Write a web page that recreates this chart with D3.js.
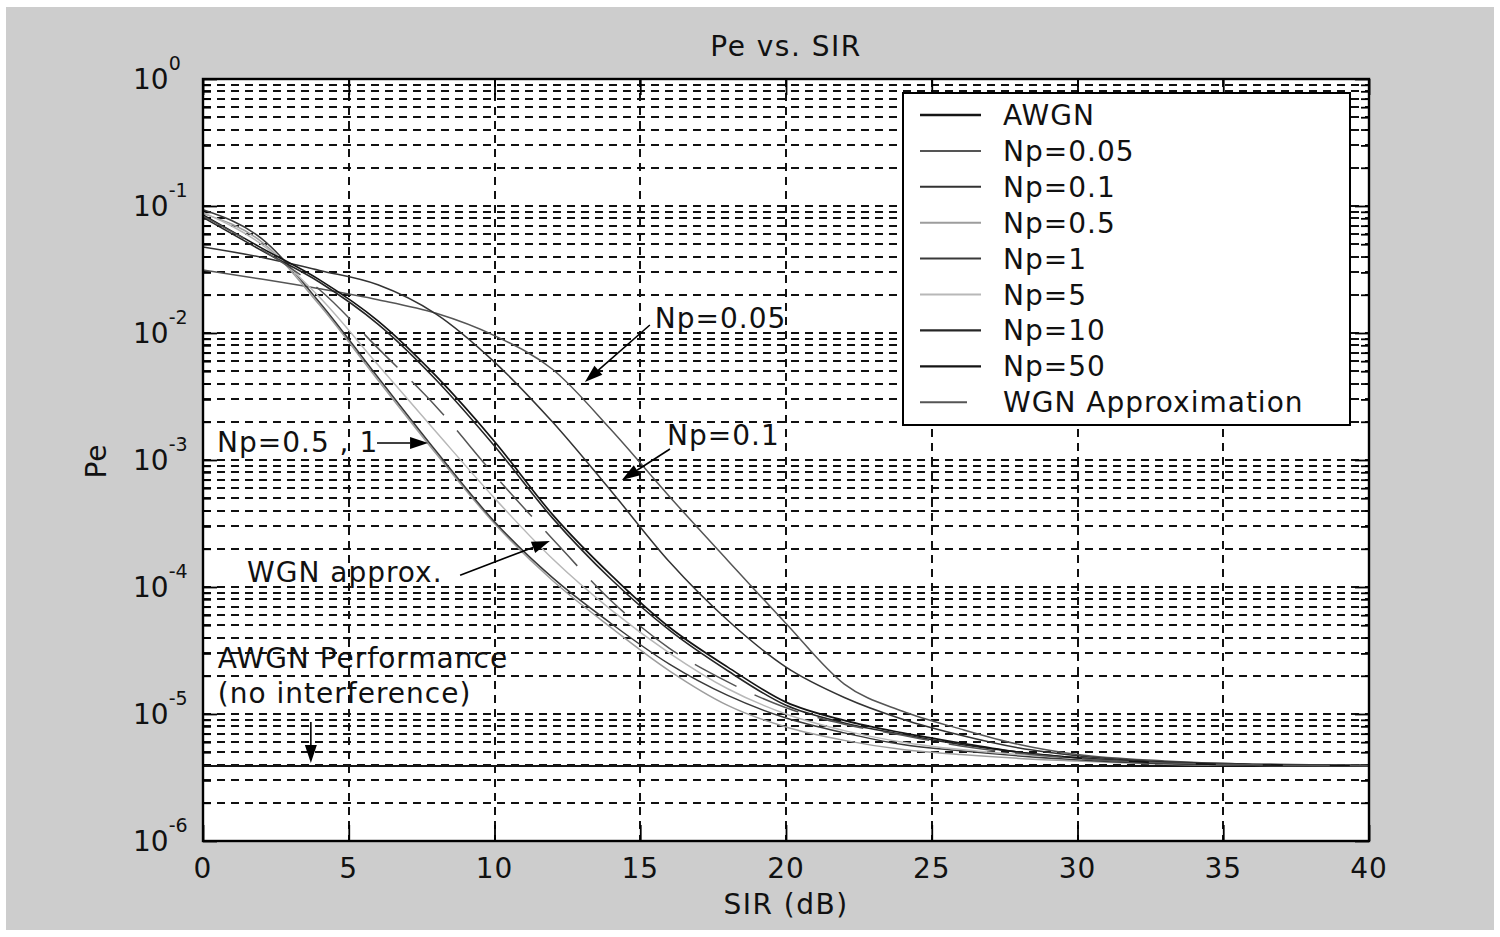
<!DOCTYPE html>
<html><head><meta charset="utf-8">
<script src="https://cdn.jsdelivr.net/npm/d3@7"></script>
<style>
body{margin:0;background:#fff;}
text{font-family:"DejaVu Sans",sans-serif;fill:#111;}
</style>
</head><body>
<svg id="c" width="1500" height="937"></svg>
<script>
// ---------------- data ----------------
const sir = [0,2,4,6,8,10,12,14,16,18,20,22,24,26,28,30,33,36,40];
const awgnSir = [0,40];
const awgn = [3.9e-6,3.9e-6];
const np005 = [0.0313,0.0266,0.0223,0.0183,0.0143,0.00953,0.00516,0.00173,5.16e-4,1.62e-4,5.16e-5,1.72e-5,1.05e-5,7.6e-6,5.75e-6,4.79e-6,4.27e-6,4.03e-6,3.94e-6];
const np01  = [0.0475,0.0395,0.0311,0.0240,0.0141,0.0059,0.00198,5.7e-4,1.58e-4,5.47e-5,2.34e-5,1.35e-5,9.1e-6,6.8e-6,5.4e-6,4.7e-6,4.2e-6,4.03e-6,3.94e-6];
const np05  = [0.0871,0.0525,0.0166,0.00427,0.00112,3.16e-4,1.12e-4,4.79e-5,2.19e-5,1.17e-5,7.9e-6,6.2e-6,5.25e-6,4.79e-6,4.47e-6,4.27e-6,4.03e-6,3.94e-6,3.92e-6];
const np1   = [0.0933,0.0556,0.0174,0.00448,0.00117,3.27e-4,1.18e-4,5.16e-5,2.47e-5,1.40e-5,9.3e-6,7.1e-6,5.75e-6,5.13e-6,4.68e-6,4.37e-6,4.07e-6,3.98e-6,3.92e-6];
const np5   = [0.0891,0.0501,0.0191,0.00562,0.00166,5.01e-4,1.66e-4,6.6e-5,3.02e-5,1.58e-5,1.0e-5,7.4e-6,6.0e-6,5.25e-6,4.79e-6,4.47e-6,4.12e-6,3.98e-6,3.92e-6];
const np10  = [0.0813,0.0447,0.0251,0.01175,0.00427,0.00129,3.47e-4,1.15e-4,4.57e-5,2.19e-5,1.17e-5,8.5e-6,6.9e-6,5.75e-6,5.0e-6,4.52e-6,4.12e-6,3.98e-6,3.92e-6];
const np50  = [0.0851,0.0468,0.0262,0.01247,0.00457,0.0014,3.70e-4,1.24e-4,4.82e-5,2.34e-5,1.24e-5,8.9e-6,7.1e-6,5.9e-6,5.0e-6,4.52e-6,4.12e-6,3.98e-6,3.92e-6];
const wgn   = [0.0832,0.0457,0.0219,0.0076,0.00263,7.59e-4,2.38e-4,7.8e-5,3.29e-5,1.79e-5,1.12e-5,8.3e-6,6.8e-6,5.6e-6,4.9e-6,4.47e-6,4.12e-6,3.98e-6,3.92e-6];

const seriesNames = ["AWGN","Np=0.05","Np=0.1","Np=0.5","Np=1","Np=5","Np=10","Np=50","WGN Approximation"];
const xTicks = [0,5,10,15,20,25,30,35,40];
const yExps = [0,-1,-2,-3,-4,-5,-6];
const titleText = "Pe vs. SIR";
const xLabel = "SIR (dB)";
const yLabel = "Pe";

// annotations in data coordinates (SIR, Pe)
const notes = [
  {lines:["Np=0.05"], at:[15.5,0.01094], from:[15.33,0.01156], to:[13.1,0.00411]},
  {lines:["Np=0.1"], at:[15.92,1.31e-3], from:[16.02,1.22e-3], to:[14.37,6.96e-4]},
  {lines:["Np=0.5 , 1"], at:[0.48,1.16e-3], from:[5.97,1.36e-3], to:[7.72,1.36e-3]},
  {lines:["WGN approx."], at:[1.51,1.1e-4], from:[8.82,1.24e-4], to:[11.9,2.3e-4]},
  {lines:["AWGN Performance","(no interference)"], at:[0.51,2.3e-5], lineStep:[0.51,1.22e-5], from:[3.7,8.65e-6], to:[3.7,4.11e-6]}
];

// ---------------- styles ----------------
const styles = {
  "AWGN":{c:"#151515",w:2,d:null},
  "Np=0.05":{c:"#555555",w:1.5,d:null},
  "Np=0.1":{c:"#333333",w:1.5,d:null},
  "Np=0.5":{c:"#9d9d9d",w:1.5,d:null},
  "Np=1":{c:"#3a3a3a",w:1.5,d:null},
  "Np=5":{c:"#b8b8b8",w:1.5,d:null},
  "Np=10":{c:"#262626",w:1.6,d:null},
  "Np=50":{c:"#141414",w:1.7,d:null},
  "WGN Approximation":{c:"#555555",w:1.5,d:"47,20"}
};
const series = [
  {name:"AWGN", x:awgnSir, y:awgn},
  {name:"Np=0.05", x:sir, y:np005},
  {name:"Np=0.1", x:sir, y:np01},
  {name:"Np=0.5", x:sir, y:np05},
  {name:"Np=1", x:sir, y:np1},
  {name:"Np=5", x:sir, y:np5},
  {name:"Np=10", x:sir, y:np10},
  {name:"Np=50", x:sir, y:np50},
  {name:"WGN Approximation", x:sir, y:wgn}
];

// ---------------- layout ----------------
const svg = d3.select("#c");
const L=203,R=1369,T=79,B=841;
svg.append("rect").attr("x",6).attr("y",7).attr("width",1488).attr("height",923).attr("fill","#cdcdcd");
svg.append("rect").attr("x",L).attr("y",T).attr("width",R-L).attr("height",B-T).attr("fill","#fff");

const x = d3.scaleLinear().domain([0,40]).range([L,R]);
const y = d3.scaleLog().domain([1e-6,1]).range([B,T]);

// grid
const minorVals = [];
for (let e=-6;e<0;e++) for (let k=1;k<=9;k++) minorVals.push(k*Math.pow(10,e));
minorVals.push(1);
const grid = svg.append("g").attr("stroke","#111").attr("stroke-width",2).attr("stroke-dasharray","8,6");
grid.selectAll("line.h").data(minorVals.filter(v=>v>1e-6 && v<1)).join("line")
  .attr("x1",L).attr("x2",R).attr("y1",d=>Math.round(y(d))).attr("y2",d=>Math.round(y(d)));
grid.selectAll("line.v").data(xTicks.filter(v=>v>0&&v<40)).join("line")
  .attr("y1",T).attr("y2",B).attr("x1",d=>Math.round(x(d))).attr("x2",d=>Math.round(x(d)));

// axes ticks (inward)
const majorVals = yExps.map(e=>Math.pow(10,e));
const minorOnly = minorVals.filter(v=>!majorVals.some(m=>Math.abs(m-v)/v<1e-9));
function styleAxis(g){ g.select(".domain").remove(); g.selectAll("text").remove(); g.selectAll("line").attr("stroke","#000").attr("stroke-width",1.8); }
svg.append("g").attr("transform",`translate(${L},0)`).call(d3.axisLeft(y).tickValues(majorVals).tickSize(-14)).call(styleAxis);
svg.append("g").attr("transform",`translate(${L},0)`).call(d3.axisLeft(y).tickValues(minorOnly).tickSize(-8)).call(styleAxis);
svg.append("g").attr("transform",`translate(${R},0)`).call(d3.axisRight(y).tickValues(majorVals).tickSize(-14)).call(styleAxis);
svg.append("g").attr("transform",`translate(${R},0)`).call(d3.axisRight(y).tickValues(minorOnly).tickSize(-8)).call(styleAxis);
svg.append("g").attr("transform",`translate(0,${B})`).call(d3.axisBottom(x).tickValues(xTicks).tickSize(-16)).call(styleAxis);
svg.append("g").attr("transform",`translate(0,${T})`).call(d3.axisTop(x).tickValues(xTicks).tickSize(-16)).call(styleAxis);

// curves
const line = d3.line().x(d=>x(d[0])).y(d=>y(d[1])).curve(d3.curveMonotoneX);
const curves = svg.append("g").attr("fill","none");
series.forEach(s=>{
  const st = styles[s.name];
  curves.append("path").datum(s.x.map((v,i)=>[v,s.y[i]]))
    .attr("d",line).attr("stroke",st.c).attr("stroke-width",st.w)
    .attr("stroke-dasharray",st.d);
});

// frame
svg.append("rect").attr("x",L).attr("y",T).attr("width",R-L).attr("height",B-T)
  .attr("fill","none").attr("stroke","#000").attr("stroke-width",2.4);

// tick labels
xTicks.forEach(v=>{
  svg.append("text").attr("x",x(v)).attr("y",B+37).attr("text-anchor","middle")
    .attr("font-size",28).attr("letter-spacing",1).text(v);
});
yExps.forEach(e=>{
  const t = svg.append("text").attr("x",133).attr("y",y(Math.pow(10,e))+10).attr("font-size",28);
  t.append("tspan").text("10");
  t.append("tspan").attr("dy",-19).attr("font-size",19).text(e);
});

// titles
svg.append("text").attr("x",(L+R)/2).attr("y",56).attr("text-anchor","middle").attr("font-size",28).attr("letter-spacing",1.5).text(titleText);
svg.append("text").attr("x",(L+R)/2).attr("y",914).attr("text-anchor","middle").attr("font-size",28).attr("letter-spacing",1.5).text(xLabel);
svg.append("text").attr("transform","translate(106,461) rotate(-90)").attr("text-anchor","middle").attr("font-size",28).attr("letter-spacing",1).text(yLabel);

// legend
const lg = svg.append("g");
lg.append("rect").attr("x",903).attr("y",93).attr("width",447).attr("height",332).attr("fill","#fff").attr("stroke","#000").attr("stroke-width",2);
seriesNames.forEach((n,i)=>{
  const ly = 115 + i*35.9;
  const st = styles[n];
  lg.append("line").attr("x1",920).attr("x2",981).attr("y1",ly).attr("y2",ly)
    .attr("stroke",st.c).attr("stroke-width",st.w+0.5).attr("stroke-dasharray",st.d);
  lg.append("text").attr("x",1003).attr("y",ly+10).attr("font-size",28).attr("letter-spacing",1).text(n);
});

// annotations
function arrow(p0,p1){
  const x0=x(p0[0]),y0=y(p0[1]),x1=x(p1[0]),y1=y(p1[1]);
  const ang=Math.atan2(y1-y0,x1-x0), hl=18, hw=6;
  const bx=x1-hl*Math.cos(ang), by=y1-hl*Math.sin(ang);
  svg.append("line").attr("x1",x0).attr("y1",y0).attr("x2",bx).attr("y2",by).attr("stroke","#000").attr("stroke-width",1.6);
  svg.append("path").attr("d",`M${x1},${y1}L${bx+hw*Math.sin(ang)},${by-hw*Math.cos(ang)}L${bx-hw*Math.sin(ang)},${by+hw*Math.cos(ang)}Z`).attr("fill","#000");
}
notes.forEach(n=>{
  n.lines.forEach((t,i)=>{
    const p = i===0 ? n.at : n.lineStep;
    svg.append("text").attr("x",x(p[0])).attr("y",y(p[1])).attr("font-size",28).attr("letter-spacing",1).text(t);
  });
  arrow(n.from,n.to);
});
</script>
</body></html>
